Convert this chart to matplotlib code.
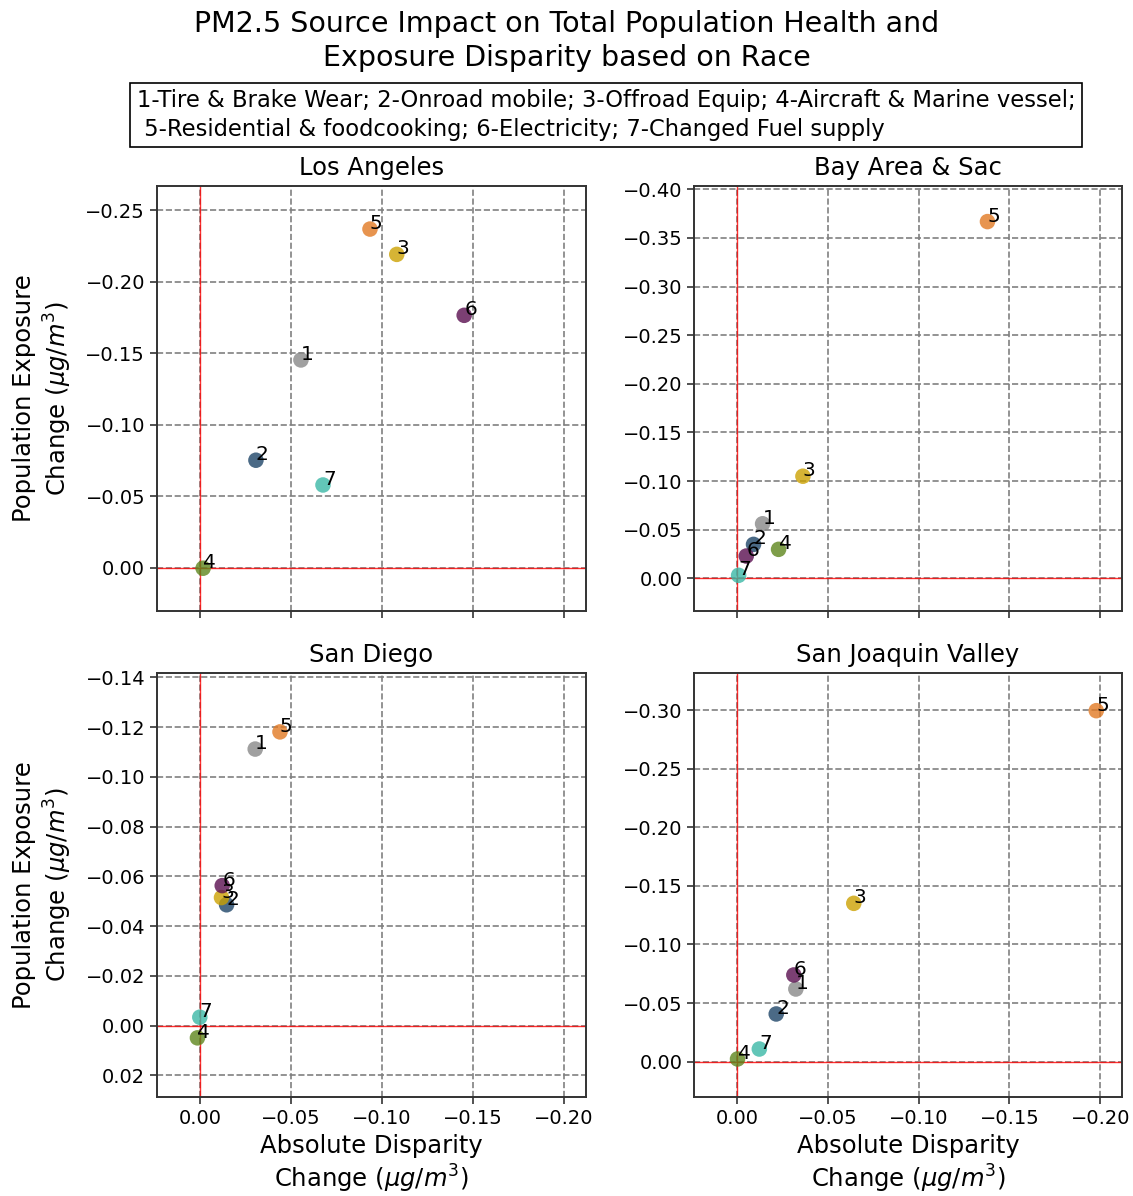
import matplotlib
matplotlib.use("Agg")
import matplotlib.pyplot as plt
from matplotlib.ticker import MultipleLocator, FuncFormatter

# Source categories (labelled 1..7 on the scatter points)
source_ids = ["1", "2", "3", "4", "5", "6", "7"]
source_colors = ["#888888", "#1e4568", "#cca202", "#5e861d", "#e27923", "#5a0f50", "#3bb8a6"]

regions = ["Los Angeles", "Bay Area & Sac", "San Diego", "San Joaquin Valley"]

# Absolute disparity change (x) and population exposure change (y), per source 1..7
la_x = [-0.0555, -0.0308, -0.1081, -0.0018, -0.0934, -0.1451, -0.0676]
la_y = [-0.1452, -0.0751, -0.2190, 0.0004, -0.2367, -0.1764, -0.0578]

bay_x = [-0.0141, -0.0091, -0.0363, -0.0229, -0.1379, -0.0051, -0.0009]
bay_y = [-0.0561, -0.0349, -0.1050, -0.0298, -0.3668, -0.0229, -0.0031]

sd_x = [-0.0304, -0.0147, -0.0119, 0.0013, -0.0440, -0.0123, 0.0000]
sd_y = [-0.1112, -0.0486, -0.0515, 0.0049, -0.1181, -0.0563, -0.0034]

sjv_x = [-0.0324, -0.0216, -0.0643, -0.0003, -0.1978, -0.0313, -0.0123]
sjv_y = [-0.0620, -0.0407, -0.1351, -0.0023, -0.2995, -0.0740, -0.0108]

region_x = [la_x, bay_x, sd_x, sjv_x]
region_y = [la_y, bay_y, sd_y, sjv_y]

# Axis ranges (both axes inverted: larger reductions toward top/right)
x_limits = (0.0235, -0.2118)
y_limits = [(0.0303, -0.2668), (0.0336, -0.4034), (0.0288, -0.1419), (0.0304, -0.3319)]
y_steps = [0.05, 0.05, 0.02, 0.05]

legend_text = ("1-Tire & Brake Wear; 2-Onroad mobile; 3-Offroad Equip; 4-Aircraft & Marine vessel;\n"
               " 5-Residential & foodcooking; 6-Electricity; 7-Changed Fuel supply")

plt.rcParams["font.family"] = ["DejaVu Sans"]
plt.rcParams["mathtext.fontset"] = "dejavusans"

W, H = 1133, 1196
fig = plt.figure(figsize=(W / 100, H / 100), dpi=100)

# Panel rectangles in pixels: (left, top, right, bottom)
boxes = [(157, 186, 585.7, 611), (694.3, 186, 1121.7, 611),
         (157, 672.7, 585.7, 1097.3), (694.3, 672.7, 1121.7, 1097.3)]

axes = []
for i, (l, t, r, b) in enumerate(boxes):
    rect = [l / W, 1 - b / H, (r - l) / W, (b - t) / H]
    ax = fig.add_axes(rect, sharex=axes[0] if axes else None)
    axes.append(ax)

ylab = "Population Exposure\nChange ($\\mu g/m^3$)"
xlab = "Absolute Disparity\nChange ($\\mu g/m^3$)"


def fmt(v, pos):
    if abs(v) < 1e-9:
        return "0.00"
    return ("%.2f" % v).replace("-", "\u2212")


for i, ax in enumerate(axes):
    ax.grid(True, linestyle="--", color="#808080", linewidth=1.2, zorder=0)
    ax.set_axisbelow(True)
    ax.axvline(0, color="red", linewidth=1.0, alpha=0.8, zorder=1)
    ax.axhline(0, color="red", linewidth=1.0, alpha=0.8, zorder=1)
    ax.scatter(region_x[i], region_y[i], s=125, c=source_colors, alpha=0.8,
               edgecolors="none", zorder=3)
    for sid, xv, yv in zip(source_ids, region_x[i], region_y[i]):
        ax.annotate(sid, (xv, yv), fontsize=14.5, zorder=4)
    ax.set_xlim(*x_limits)
    ax.set_ylim(*y_limits[i])
    ax.xaxis.set_major_locator(MultipleLocator(0.05))
    ax.yaxis.set_major_locator(MultipleLocator(y_steps[i]))
    ax.xaxis.set_major_formatter(FuncFormatter(fmt))
    ax.yaxis.set_major_formatter(FuncFormatter(fmt))
    ax.tick_params(labelsize=14, length=5, width=1.2, color="#333333")
    for sp in ax.spines.values():
        sp.set_color("#333333")
        sp.set_linewidth(1.4)
    ax.set_title(regions[i], fontsize=17.5, pad=8)
    if i in (0, 2):
        ax.set_ylabel(ylab, fontsize=17.5, labelpad=8, linespacing=1.25)
    if i in (2, 3):
        ax.set_xlabel(xlab, fontsize=17.5, labelpad=4, linespacing=1.2)
    else:
        ax.tick_params(labelbottom=False)

fig.text(0.5, 1 - 10 / H,
         "PM2.5 Source Impact on Total Population Health and\nExposure Disparity based on Race",
         ha="center", va="top", fontsize=20.5, linespacing=1.25)

fig.text(606 / W, 1 - 115 / H, legend_text, ha="center", va="center", fontsize=16.3,
         multialignment="left", linespacing=1.3,
         bbox=dict(boxstyle="square,pad=0.3", facecolor="white", edgecolor="black", linewidth=1.2))

fig.savefig("out.png", dpi=100)
